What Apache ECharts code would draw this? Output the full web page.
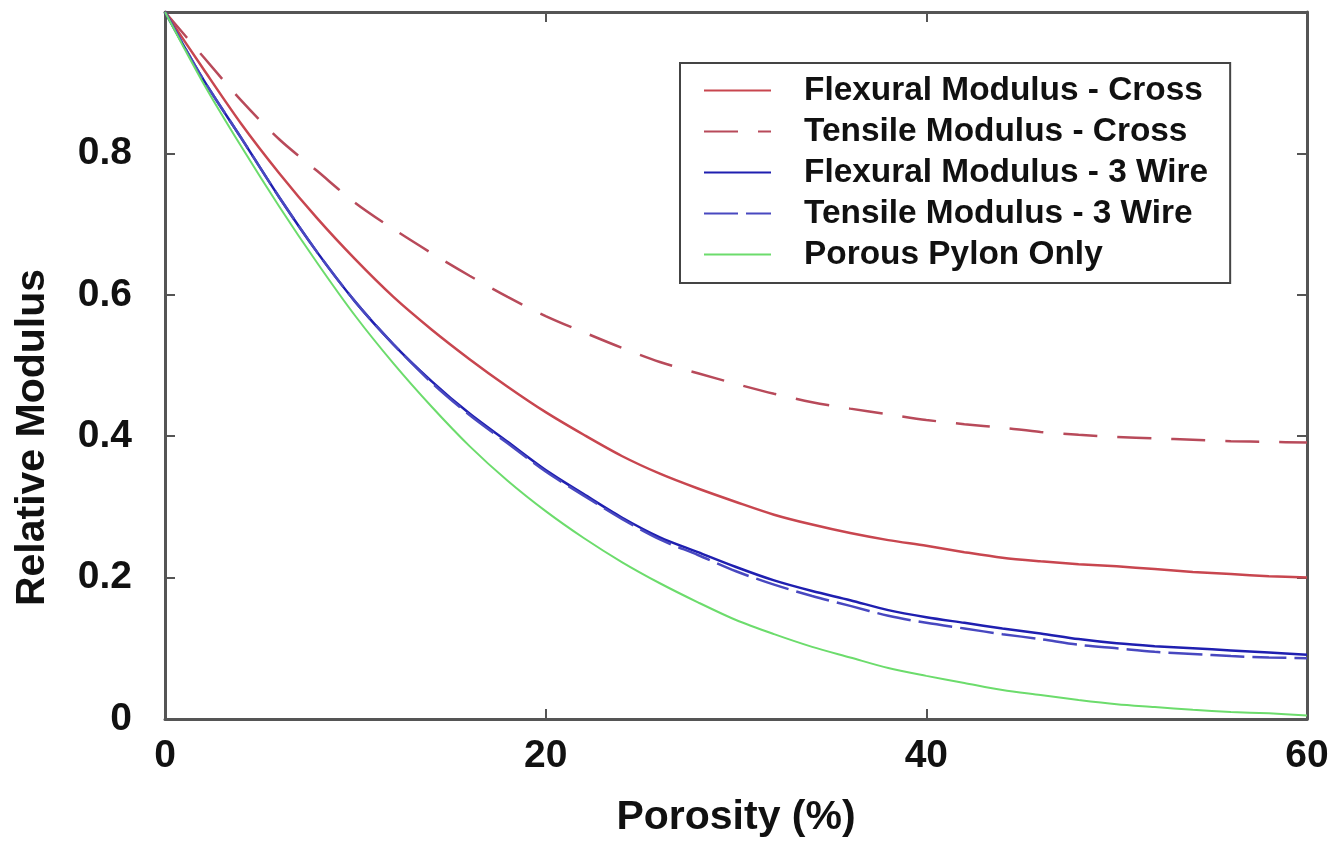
<!DOCTYPE html>
<html>
<head>
<meta charset="utf-8">
<title>Relative Modulus vs Porosity</title>
<script src="https://cdn.jsdelivr.net/npm/echarts@6/dist/echarts.min.js"></script>
<style>
    html, body { margin: 0; padding: 0; background: #fff; }
    #chart { width: 1342px; height: 850px; }
</style>
</head>
<body>
<div id="chart"></div>
<script>
    // porosity (%) sample points
    var porosity = [0, 2, 4, 6, 8, 10, 12, 14, 16, 18, 20, 22, 24, 26, 28, 30,
        32, 34, 36, 38, 40, 42, 44, 46, 48, 50, 52, 54, 56, 58, 60];

    var flexCross = [1.0, 0.92, 0.842, 0.772, 0.708, 0.65, 0.597, 0.551, 0.509, 0.47, 0.434,
        0.402, 0.372, 0.347, 0.326, 0.307, 0.289, 0.275, 0.263, 0.253, 0.245,
        0.236, 0.228, 0.223, 0.219, 0.216, 0.212, 0.208, 0.205, 0.202, 0.2];

    var tensCross = [1.0, 0.937, 0.875, 0.82, 0.775, 0.73, 0.693, 0.659, 0.627, 0.597, 0.57,
        0.547, 0.525, 0.505, 0.489, 0.474, 0.46, 0.448, 0.439, 0.431, 0.423,
        0.417, 0.412, 0.406, 0.402, 0.399, 0.397, 0.395, 0.393, 0.392, 0.391];

    var flexWire = [1.0, 0.905, 0.822, 0.738, 0.66, 0.59, 0.53, 0.478, 0.432, 0.392, 0.352,
        0.318, 0.285, 0.257, 0.236, 0.215, 0.196, 0.181, 0.168, 0.154, 0.144,
        0.136, 0.128, 0.121, 0.113, 0.107, 0.103, 0.10, 0.097, 0.094, 0.091];

    var tensWire = [1.0, 0.905, 0.822, 0.738, 0.66, 0.59, 0.53, 0.476, 0.43, 0.39, 0.35,
        0.316, 0.283, 0.254, 0.232, 0.209, 0.19, 0.174, 0.16, 0.146, 0.136,
        0.128, 0.12, 0.113, 0.105, 0.10, 0.095, 0.092, 0.089, 0.087, 0.086];

    var pylonOnly = [1.0, 0.90, 0.81, 0.725, 0.645, 0.57, 0.503, 0.442, 0.386, 0.337, 0.294,
        0.256, 0.222, 0.192, 0.165, 0.14, 0.12, 0.102, 0.087, 0.072, 0.061,
        0.051, 0.041, 0.034, 0.027, 0.021, 0.017, 0.013, 0.01, 0.008, 0.005];

    var xTicks = [0, 20, 40, 60];
    var yTicks = [0, 0.2, 0.4, 0.6, 0.8];

    var FONT = '"Liberation Sans", Arial, sans-serif';
    var AXIS_COLOR = '#555';

    function pairs(vals) {
        return porosity.map(function (x, i) { return [x, vals[i]]; });
    }

    function line(name, vals, color, type, width) {
        return {
            name: name,
            type: 'line',
            data: pairs(vals),
            showSymbol: false,
            symbol: 'none',
            smooth: 0.3,
            lineStyle: { color: color, width: width || 2.5, type: type },
            itemStyle: { color: color },
            animation: false
        };
    }

    var chart = echarts.init(document.getElementById('chart'));

    var baseX = {
        type: 'value', min: 0, max: 60, interval: 20,
        axisLine: { show: true, onZero: false, lineStyle: { color: AXIS_COLOR, width: 3 } },
        axisTick: { show: true, inside: true, length: 10, lineStyle: { color: AXIS_COLOR, width: 2 } },
        splitLine: { show: false }
    };
    var baseY = {
        type: 'value', min: 0, max: 1, interval: 0.2,
        axisLine: { show: true, onZero: false, lineStyle: { color: AXIS_COLOR, width: 3 } },
        axisTick: { show: true, inside: true, length: 10, lineStyle: { color: AXIS_COLOR, width: 2 } },
        splitLine: { show: false }
    };

    var option = {
        backgroundColor: '#fff',
        animation: false,
        grid: { left: 165, right: 35, top: 12, bottom: 131, containLabel: false },
        legend: {
            orient: 'vertical',
            left: 680,
            top: 63,
            padding: [11, 22, 12, 23],
            itemWidth: 67,
            itemHeight: 14,
            itemGap: 8,
            borderColor: '#444',
            borderWidth: 2,
            backgroundColor: '#fff',
            itemStyle: { opacity: 0 },
            textStyle: {
                fontFamily: FONT, fontWeight: 'bold', fontSize: 33.4, color: '#111',
                padding: [0, 0, 0, 28]
            },
            data: ['Flexural Modulus - Cross', 'Tensile Modulus - Cross',
                'Flexural Modulus - 3 Wire', 'Tensile Modulus - 3 Wire', 'Porous Pylon Only']
        },
        xAxis: [
            Object.assign({}, baseX, {
                position: 'bottom',
                name: 'Porosity (%)',
                nameLocation: 'middle',
                nameGap: 78,
                nameTextStyle: { fontFamily: FONT, fontWeight: 'bold', fontSize: 41, color: '#111' },
                axisLabel: {
                    margin: 18, fontFamily: FONT, fontWeight: 'bold', fontSize: 39, color: '#111',
                    formatter: function (v) { return xTicks.indexOf(v) >= 0 ? String(v) : ''; }
                }
            }),
            Object.assign({}, baseX, { position: 'top', axisLabel: { show: false } })
        ],
        yAxis: [
            Object.assign({}, baseY, {
                position: 'left',
                name: 'Relative Modulus',
                nameLocation: 'middle',
                nameGap: 112,
                nameTextStyle: {
                    fontFamily: FONT, fontWeight: 'bold', fontSize: 41, color: '#111',
                    padding: [0, 144, 0, 0]
                },
                axisLabel: {
                    margin: 33, fontFamily: FONT, fontWeight: 'bold', fontSize: 39, color: '#111',
                    formatter: function (v) {
                        for (var i = 0; i < yTicks.length; i++) {
                            if (Math.abs(yTicks[i] - v) < 1e-6) return String(yTicks[i]);
                        }
                        return '';
                    }
                }
            }),
            Object.assign({}, baseY, { position: 'right', axisLabel: { show: false } })
        ],
        series: [
            line('Flexural Modulus - Cross', flexCross, '#c8464f', 'solid'),
            line('Tensile Modulus - Cross', tensCross, '#b84a5a', [34, 20]),
            line('Flexural Modulus - 3 Wire', flexWire, '#1f1fb0', 'solid'),
            line('Tensile Modulus - 3 Wire', tensWire, '#4848c0', [34, 8]),
            line('Porous Pylon Only', pylonOnly, '#6cdc6c', 'solid', 2)
        ]
    };

    chart.setOption(option);

    window.addEventListener('resize', function () {
        chart.resize();
    });
</script>
</body>
</html>
